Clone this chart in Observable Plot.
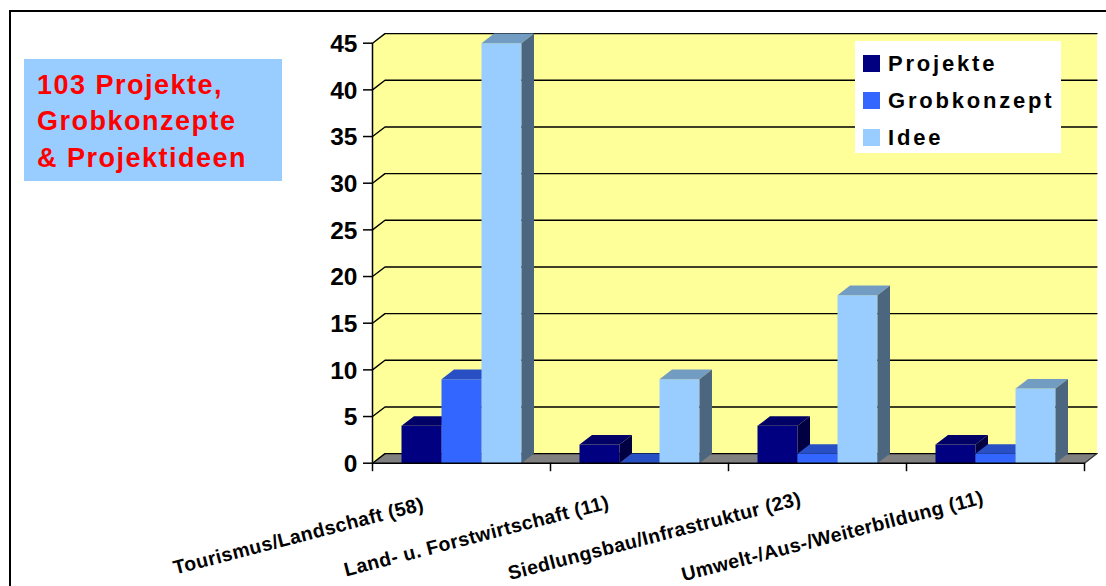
<!DOCTYPE html>
<html><head><meta charset="utf-8">
<script src="https://cdn.jsdelivr.net/npm/d3@7"></script>
<script src="https://cdn.jsdelivr.net/npm/@observablehq/plot@0.6"></script>
<style>
html,body{margin:0;padding:0;background:#fff;}
#wrap{position:relative;width:1106px;height:586px;overflow:hidden;font-family:"Liberation Sans",Arial,sans-serif;}
#chart{position:absolute;left:0;top:0;}
#frame{position:absolute;left:9px;top:9.5px;width:1200px;height:700px;border:2.5px solid #000;box-sizing:border-box;}
#title{position:absolute;left:24px;top:59px;width:258px;height:122px;background:#99CCFF;color:#FF0000;font-weight:bold;font-size:27px;letter-spacing:1.5px;line-height:36.3px;padding:8px 0 0 13px;box-sizing:border-box;white-space:nowrap;}
#legend{position:absolute;left:855px;top:41px;width:206px;height:112px;background:#fff;}
.lrow{position:absolute;left:0;height:22px;}
.lsw{position:absolute;left:8px;top:2.5px;width:17px;height:17px;}
.ltx{position:absolute;left:33px;top:0;font-size:22px;line-height:22px;font-weight:bold;letter-spacing:2.8px;color:#000;white-space:nowrap;}
</style>
</head><body>
<div id="wrap">
  <div id="frame"></div>
  <div id="chart"></div>
  <div id="title"></div>
  <div id="legend"></div>
</div>
<script>
// ---- data ----
const categories = ["Tourismus/Landschaft (58)", "Land- u. Forstwirtschaft (11)", "Siedlungsbau/Infrastruktur (23)", "Umwelt-/Aus-/Weiterbildung (11)"];
const seriesNames = ["Projekte", "Grobkonzept", "Idee"];
const projekte = [4, 2, 4, 2];
const grobkonzept = [9, 0, 1, 1];
const idee = [45, 9, 18, 8];
const yTicks = [0, 5, 10, 15, 20, 25, 30, 35, 40, 45];
const titleLines = ["103 Projekte,", "Grobkonzepte", "& Projektideen"];

// ---- styles ----
const frontColors = ["#000080", "#3366FF", "#99CCFF"];
const topColors = ["#000066", "#2850C4", "#739CC2"];
const sideColors = ["#000042", "#1F3F9E", "#4D6680"];
const seriesValues = [projekte, grobkonzept, idee];

const W = 1106, H = 586;
const mL = 372, mR = 22, mT = 42.7, mB = 123.3;
const PXX = (W - mL - mR) / categories.length;   // px per category unit
const PXY = (H - mT - mB) / 45;                   // px per value unit
const DX = 12.5 / PXX, DY = 9.6 / PXY;            // 3D depth in data units
const BAR0 = 29 / PXX, BARW = 40 / PXX;
const N = categories.length;

function poly(arr, id, pts, color) { pts.forEach(([x, y]) => arr.push({id, x, y, color})); }

// walls & floor
const walls = [];
poly(walls, "back", [[DX, DY], [N + DX, DY], [N + DX, 45 + DY], [DX, 45 + DY]], "#FFFF99");
poly(walls, "left", [[0, 0], [DX, DY], [DX, 45 + DY], [0, 45]], "#FFFF99");
poly(walls, "floor", [[0, 0], [N, 0], [N + DX, DY], [DX, DY]], "#808080");

// gridlines
const grid = [];
yTicks.forEach(t => { grid.push({t, x: 0, y: t}, {t, x: DX, y: t + DY}, {t, x: N + DX, y: t + DY}); });
const floorEdge = [{x: N, y: 0}, {x: N + DX, y: DY}];

// bars (front, top, side per bar, in drawing order)
const bars = [];
let pid = 0;
categories.forEach((c, i) => {
  seriesValues.forEach((vals, j) => {
    const v = vals[i];
    const x0 = i + BAR0 + j * BARW, x1 = x0 + BARW;
    poly(bars, pid++, [[x0, 0], [x1, 0], [x1, v], [x0, v]], frontColors[j]);
    poly(bars, pid++, [[x0, v], [x1, v], [x1 + DX, v + DY], [x0 + DX, v + DY]], topColors[j]);
    poly(bars, pid++, [[x1, 0], [x1 + DX, DY], [x1 + DX, v + DY], [x1, v]], sideColors[j]);
  });
});

const catTicks = d3.range(N + 1);
const font = "'Liberation Sans', Arial, sans-serif";

const chart = Plot.plot({
  width: W, height: H,
  marginLeft: mL, marginRight: mR, marginTop: mT, marginBottom: mB,
  x: {type: "linear", domain: [0, N], axis: null},
  y: {type: "linear", domain: [0, 45], axis: null},
  color: {type: "identity"},
  style: {background: "transparent", fontFamily: font, overflow: "visible"},
  marks: [
    Plot.line(walls, {x: "x", y: "y", z: "id", fill: "color", stroke: "none", curve: "linear-closed"}),
    Plot.line(grid, {x: "x", y: "y", z: "t", stroke: "#000", strokeWidth: 1.4}),
    Plot.line(floorEdge, {x: "x", y: "y", stroke: "#333", strokeWidth: 1.2}),
    Plot.line(bars, {x: "x", y: "y", z: "id", fill: "color", stroke: "none", curve: "linear-closed"}),
    Plot.ruleY(yTicks, {y: d => d, x1: -9 / PXX, x2: 0, stroke: "#000", strokeWidth: 1.5}),
    Plot.ruleX(catTicks, {x: d => d, y1: -8.5 / PXY, y2: 0, stroke: "#000", strokeWidth: 1.5}),
    Plot.ruleX([0], {x: d => d, y1: 0, y2: 45, stroke: "#000", strokeWidth: 1.5}),
    Plot.ruleY([0], {y: d => d, x1: 0, x2: N, stroke: "#000", strokeWidth: 1.5}),
    Plot.text(yTicks, {x: 0, y: d => d, text: d => String(d), dx: -15, dy: 1, textAnchor: "end",
      fontSize: 24.5, fontWeight: "bold", fill: "#000"}),
    Plot.text(categories, {x: (d, i) => i + 0.5, y: 0, text: d => d, rotate: -14.5, dx: -163, dy: 73,
      textAnchor: "middle", fontSize: 19.5, fontWeight: "bold", fill: "#000"})
  ]
});
d3.select(chart).selectAll("text")
  .filter(function () { return categories.includes(this.textContent); })
  .style("letter-spacing", "0.4px");
document.getElementById("chart").appendChild(chart);

// title box
document.getElementById("title").innerHTML = titleLines.join("<br>");

// legend
const legend = document.getElementById("legend");
seriesNames.forEach((name, j) => {
  const row = document.createElement("div");
  row.className = "lrow";
  row.style.top = (11.5 + j * 37) + "px";
  row.innerHTML = `<div class="lsw" style="background:${frontColors[j]}"></div><div class="ltx">${name}</div>`;
  legend.appendChild(row);
});
</script>
</body></html>
